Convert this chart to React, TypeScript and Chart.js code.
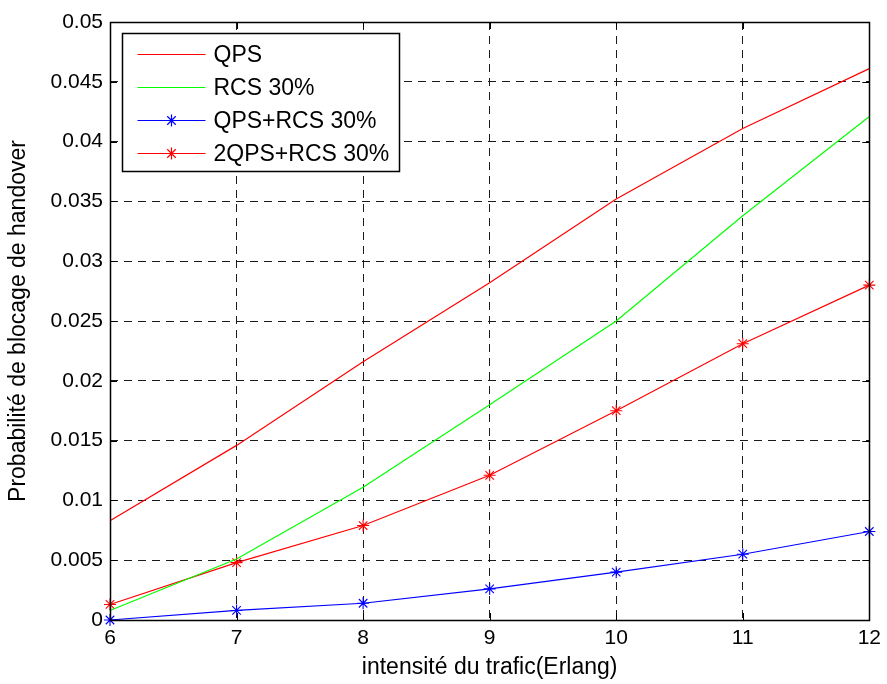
import React, { useEffect, useRef } from 'react';
import { Chart, registerables } from 'chart.js';

Chart.register(...registerables);

const xValues = [6, 7, 8, 9, 10, 11, 12];
const qps = [0.0083, 0.0146, 0.0216, 0.0282, 0.0352, 0.0411, 0.0461];
const rcs30 = [0.0008, 0.0051, 0.0111, 0.018, 0.025, 0.0338, 0.0421];
const qpsRcs30 = [0.0, 0.0008, 0.0014, 0.0026, 0.004, 0.0055, 0.0074];
const twoQpsRcs30 = [0.0013, 0.0048, 0.0079, 0.0121, 0.0175, 0.0231, 0.028];
const seriesLabels = ['QPS', 'RCS 30%', 'QPS+RCS 30%', '2QPS+RCS 30%'];
const seriesColors = ['#ff0000', '#00ff00', '#0000ff', '#ff0000'];
const seriesMarkers = [false, false, true, true];
const yTickValues = [0, 0.005, 0.01, 0.015, 0.02, 0.025, 0.03, 0.035, 0.04, 0.045, 0.05];
const xTickValues = [6, 7, 8, 9, 10, 11, 12];
const xTitle = 'intensité du trafic(Erlang)';
const yTitle = 'Probabilité de blocage de handover';

const FONT = "'Liberation Sans', Arial, Helvetica, sans-serif";

const framePlugin = {
  id: 'matlabFrame',
  afterDatasetsDraw(chart: any) {
    const { ctx, chartArea } = chart;
    const { left, right, top, bottom } = chartArea;
    ctx.save();
    ctx.strokeStyle = '#000';
    ctx.lineWidth = 1;
    const tl = 7;
    ctx.beginPath();
    const xs = chart.scales.x;
    const ys = chart.scales.y;
    xTickValues.forEach((v) => {
      const px = Math.round(xs.getPixelForValue(v)) + 0.5;
      ctx.moveTo(px, bottom);
      ctx.lineTo(px, bottom - tl);
      ctx.moveTo(px, top);
      ctx.lineTo(px, top + tl);
    });
    yTickValues.forEach((v) => {
      const py = Math.round(ys.getPixelForValue(v)) + 0.5;
      ctx.moveTo(left, py);
      ctx.lineTo(left + tl, py);
      ctx.moveTo(right, py);
      ctx.lineTo(right - tl, py);
    });
    ctx.stroke();
    ctx.lineWidth = 1.5;
    ctx.strokeRect(Math.round(left) + 0.5, Math.round(top) + 0.5, Math.round(right - left), Math.round(bottom - top));
    ctx.restore();
  },
};

const drawStar = (ctx: CanvasRenderingContext2D, x: number, y: number, r: number) => {
  ctx.beginPath();
  ctx.moveTo(x - r, y);
  ctx.lineTo(x + r, y);
  ctx.moveTo(x, y - r);
  ctx.lineTo(x, y + r);
  const d = r * Math.SQRT1_2;
  ctx.moveTo(x - d, y - d);
  ctx.lineTo(x + d, y + d);
  ctx.moveTo(x - d, y + d);
  ctx.lineTo(x + d, y - d);
  ctx.stroke();
};

const legendPlugin = {
  id: 'matlabLegend',
  afterDraw(chart: any) {
    const { ctx, chartArea } = chart;
    const bx = Math.round(chartArea.left + 12) + 0.5;
    const by = Math.round(chartArea.top + 11) + 0.5;
    const bw = 277;
    const bh = 138;
    ctx.save();
    ctx.fillStyle = '#fff';
    ctx.fillRect(bx, by, bw, bh);
    ctx.strokeStyle = '#000';
    ctx.lineWidth = 1.5;
    ctx.strokeRect(bx, by, bw, bh);
    ctx.font = `23px ${FONT}`;
    ctx.textBaseline = 'middle';
    ctx.textAlign = 'left';
    chart.data.datasets.forEach((ds: any, i: number) => {
      const cy = Math.round(by + 20 + i * 33) + 0.5;
      ctx.strokeStyle = ds.borderColor;
      ctx.lineWidth = 1.2;
      ctx.beginPath();
      ctx.moveTo(bx + 15, cy);
      ctx.lineTo(bx + 83, cy);
      ctx.stroke();
      if (seriesMarkers[i]) drawStar(ctx, bx + 49, cy, 6);
      ctx.fillStyle = '#000';
      ctx.fillText(ds.label, bx + 91, cy + 1);
    });
    ctx.restore();
  },
};

export default function App() {
  const ref = useRef<HTMLCanvasElement | null>(null);
  useEffect(() => {
    if (!ref.current) return;
    const series = [qps, rcs30, qpsRcs30, twoQpsRcs30];
    const chart = new Chart(ref.current, {
      type: 'line',
      data: {
        datasets: series.map((vals, i) => ({
          label: seriesLabels[i],
          data: xValues.map((x, j) => ({ x, y: vals[j] })),
          borderColor: seriesColors[i],
          backgroundColor: seriesColors[i],
          borderWidth: 1.2,
          pointStyle: 'star',
          pointRadius: seriesMarkers[i] ? 6 : 0,
          pointBorderWidth: 1.1,
          pointBorderColor: seriesColors[i],
          tension: 0,
          clip: false as any,
          fill: false,
        })),
      },
      options: {
        animation: false,
        responsive: false,
        devicePixelRatio: 1,
        layout: { padding: { top: 22, right: 17, left: 0, bottom: 0 } },
        plugins: { legend: { display: false }, tooltip: { enabled: false } },
        scales: {
          x: {
            type: 'linear',
            min: 6,
            max: 12,
            afterFit: (s: any) => { s.height = 64; },
            afterBuildTicks: (s: any) => { s.ticks = xTickValues.map((v) => ({ value: v })); },
            ticks: {
              padding: 6,
              color: '#000',
              font: { family: FONT, size: 21 },
              callback: (v: any) => String(v),
            },
            grid: { color: '#1a1a1a', lineWidth: 1, drawTicks: false },
            border: { display: false, dash: [8, 6] },
            title: {
              display: true,
              text: xTitle,
              color: '#000',
              font: { family: FONT, size: 23 },
              padding: { top: 0, bottom: 3 },
            },
          },
          y: {
            type: 'linear',
            min: 0,
            max: 0.05,
            afterFit: (s: any) => { s.width = 110; },
            afterBuildTicks: (s: any) => { s.ticks = yTickValues.map((v) => ({ value: v })); },
            ticks: {
              padding: 7,
              color: '#000',
              font: { family: FONT, size: 21 },
              callback: (v: any) => String(Number(Number(v).toFixed(3))),
            },
            grid: { color: '#1a1a1a', lineWidth: 1, drawTicks: false },
            border: { display: false, dash: [8, 6] },
            title: {
              display: true,
              text: yTitle,
              color: '#000',
              font: { family: FONT, size: 23 },
              padding: { top: 5, bottom: 0 },
            },
          },
        },
      },
      plugins: [framePlugin, legendPlugin],
    });
    return () => chart.destroy();
  }, []);
  return (
    <div style={{ position: 'fixed', left: 0, top: 0, width: 887, height: 684, background: '#fff' }}>
      <canvas ref={ref} width={887} height={684} style={{ display: 'block' }} />
    </div>
  );
}
